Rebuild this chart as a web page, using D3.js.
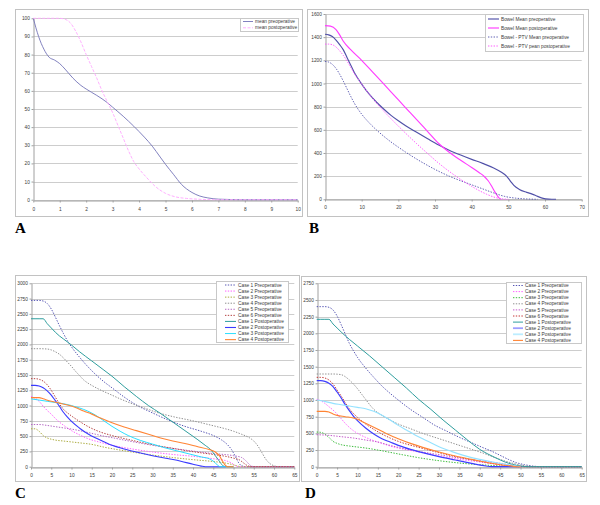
<!DOCTYPE html>
<html><head><meta charset="utf-8">
<script src="https://cdn.jsdelivr.net/npm/d3@7/dist/d3.min.js"></script>
<style>html,body{margin:0;padding:0;background:#fff;}svg{display:block;}</style>
</head><body>
<script>
// ---------- DATA ----------
// Panel A
const aXTicks = [0,1,2,3,4,5,6,7,8,9,10];
const aYTicks = [0,10,20,30,40,50,60,70,80,90,100];
const aNames = ["mean preoperative","mean postoperative"];
const aMeanPre = [[0,100],[0.2,90],[0.4,83],[0.6,78.5],[0.8,77],[1,75],[1.2,72],[1.5,67],[1.8,63],[2,61],[2.4,57.5],[2.8,53.5],[3,51],[3.4,46],[3.8,40.5],[4.2,34.5],[4.5,29.5],[4.8,23.5],[5,19.5],[5.3,14],[5.6,8.5],[6,4],[6.3,2],[6.6,1],[7,0.3],[8,0],[9,0],[10,0]];
const aMeanPost = [[0,100],[0.5,100],[1,100],[1.2,99.5],[1.4,97.5],[1.6,93],[1.8,87],[2,80],[2.2,73.5],[2.4,67],[2.6,60],[2.8,54],[3,48],[3.2,41],[3.4,34],[3.6,27],[3.8,21],[4,17],[4.3,12],[4.6,7.5],[5,3.5],[5.4,1.5],[5.8,0.7],[6.2,0.3],[7,0],[8,0],[10,0]];

// Panel B
const bXTicks = [0,10,20,30,40,50,60,70];
const bYTicks = [0,200,400,600,800,1000,1200,1400,1600];
const bNames = ["Bowel Mean preoperative","Bowel Mean postoperative","Bowel - PTV Mean preoperative","Bowel - PTV pean postoperative"];
const bMeanPre = [[0,1425],[1,1420],[2,1405],[3,1375],[4,1335],[5,1290],[6,1225],[7,1160],[8,1095],[10,995],[12,910],[14,840],[16,780],[18,725],[20,678],[22,635],[25,578],[28,522],[31,468],[34,422],[37,382],[40,345],[43,310],[46,270],[48,235],[49.5,200],[50.5,160],[51.5,120],[53,85],[55,60],[56.5,45],[58,25],[59.5,8],[61,2],[63,0]];
const bMeanPost = [[0,1500],[1.5,1495],[3,1465],[4,1420],[5,1365],[7,1292],[10,1200],[13,1098],[16,996],[19,893],[22,790],[25,688],[28,585],[31,482],[33,428],[35,380],[37,337],[40,275],[42,232],[43.5,195],[44.5,160],[45.5,110],[46.5,55],[47.5,10],[48,0]];
const bPtvPre = [[0,1190],[1,1185],[2,1165],[3,1130],[4,1080],[5,1020],[6,955],[7,890],[8,830],[10,735],[12,662],[14,600],[16,545],[18,495],[20,450],[22,407],[25,347],[28,292],[31,242],[34,198],[37,160],[40,125],[43,90],[46,55],[49,25],[52,10],[55,3],[58,0]];
const bPtvPost = [[0,1340],[1,1340],[2,1335],[3,1315],[4,1282],[5,1242],[6,1195],[7,1140],[8,1085],[10,995],[12,910],[14,833],[16,762],[18,696],[20,632],[22,570],[25,480],[28,395],[31,312],[34,238],[37,172],[40,112],[42,76],[44,45],[46,20],[48,5],[50,0]];

// Panels C and D (shared legend names)
const caseNames = ["Case 1 Preoperative","Case 2 Preoperative","Case 3 Preoperative","Case 4 Preoperative","Case 5 Preoperative","Case 6 Preoperative","Case 1 Postoperative","Case 2 Postoperative","Case 3 Postoperative","Case 4 Postoperative"];
const cdXTicks = [0,5,10,15,20,25,30,35,40,45,50,55,60,65];
const cYTicks = [0,250,500,750,1000,1250,1500,1750,2000,2250,2500,2750,3000];
const dYTicks = [0,250,500,750,1000,1250,1500,1750,2000,2250,2500,2750];

const c1Pre = [[0,2720],[1,2720],[2,2720],[3,2710],[4,2670],[5,2580],[6,2450],[7,2310],[8,2180],[9,2060],[10,1960],[12,1790],[15,1570],[18,1390],[20,1290],[23,1140],[26,1010],[30,880],[34,760],[38,660],[42,580],[45,510],[47,440],[48.5,360],[49.5,280],[50.5,160],[51.3,60],[52,15],[53,0],[65,0]];
const c2Pre = [[0,1150],[1,1120],[2,1070],[3,990],[4,920],[5,860],[6,790],[7,730],[8,680],[10,590],[12,520],[14,460],[17,400],[20,350],[25,290],[30,240],[35,200],[40,170],[45,130],[48,100],[49.5,60],[50.5,15],[51.5,0],[65,0]];
const c3Pre = [[0,620],[1,620],[2,580],[3,510],[4,470],[5,450],[6,435],[8,420],[10,405],[12,390],[15,365],[18,320],[20,295],[25,240],[30,190],[35,150],[40,115],[45,85],[48,60],[50,30],[51,10],[52,0],[65,0]];
const c4Pre = [[0,1930],[2,1930],[4,1925],[5,1910],[6,1880],[7,1840],[8,1780],[9,1710],[10,1640],[11,1560],[12,1490],[13,1420],[14,1370],[15,1330],[17,1260],[20,1170],[22,1110],[25,1030],[28,960],[31,890],[35,820],[40,750],[45,670],[48,620],[50,580],[52,530],[54,470],[55,420],[56,340],[57,230],[58,120],[59,50],[60,15],[61,0],[65,0]];
const c5Pre = [[0,690],[2,690],[4,675],[6,655],[8,635],[10,615],[12,590],[14,560],[16,530],[18,500],[20,475],[25,410],[30,350],[35,300],[40,255],[45,215],[50,180],[52,150],[53,100],[54,30],[55,0],[65,0]];
const c6Pre = [[0,1440],[1,1440],[2,1430],[3,1400],[4,1340],[5,1250],[6,1140],[7,1030],[8,940],[9,880],[10,830],[12,740],[14,660],[17,570],[20,510],[25,430],[30,360],[35,300],[40,245],[45,200],[48,170],[50,140],[51.5,110],[52.5,60],[53.5,15],[54.5,0],[65,0]];
const c1Post = [[0,2420],[1,2420],[2,2420],[3,2420],[4,2340],[5,2270],[6,2200],[7,2140],[8,2090],[10,1990],[12,1880],[15,1730],[18,1580],[20,1480],[23,1310],[26,1150],[29,1000],[32,870],[35,730],[38,590],[41,450],[43,350],[44.5,270],[45.5,180],[46.5,90],[47.3,20],[48,0],[50,0]];
const c2Post = [[0,1330],[1,1330],[2,1320],[3,1290],[4,1240],[5,1170],[6,1080],[7,990],[8,890],[9,810],[10,740],[12,630],[14,540],[16,470],[18,410],[20,350],[23,290],[26,240],[30,180],[34,130],[37,90],[40,40],[42,10],[43,0],[48,0]];
const c3Post = [[0,1110],[2,1090],[4,1070],[6,1050],[8,1030],[10,1000],[12,960],[14,910],[16,840],[18,750],[20,660],[22,580],[24,510],[27,430],[30,370],[33,310],[36,260],[39,210],[42,160],[44,130],[45,90],[46,30],[46.7,0],[48,0]];
const c4Post = [[0,1130],[2,1130],[3,1110],[5,1070],[7,1040],[9,1010],[11,970],[13,910],[15,860],[17,800],[20,720],[23,650],[26,590],[29,530],[32,470],[35,420],[38,380],[41,330],[44,280],[45.5,240],[46.5,180],[47.3,90],[48,20],[48.5,0],[50,0]];

const d1Pre = [[0,2400],[1,2400],[2,2400],[3,2390],[4,2350],[5,2260],[6,2130],[7,1990],[8,1850],[9,1740],[10,1640],[12,1480],[14,1340],[16,1210],[18,1100],[20,1000],[23,860],[26,740],[29,620],[32,530],[35,440],[38,360],[41,280],[43,230],[45,170],[47,110],[49,60],[51,30],[53,10],[55,0],[65,0]];
const d2Pre = [[0,1010],[1,990],[2,950],[3,900],[4,850],[5,790],[6,720],[7,650],[8,590],[9,540],[10,500],[12,440],[14,390],[16,350],[18,310],[20,280],[25,220],[30,160],[35,110],[40,70],[45,30],[48,10],[50,0],[65,0]];
const d3Pre = [[0,520],[1,515],[2,490],[3,440],[4,380],[5,350],[6,330],[8,310],[10,295],[12,280],[15,250],[18,215],[21,180],[25,135],[30,90],[35,55],[40,30],[45,12],[48,3],[50,0],[65,0]];
const d4Pre = [[0,1390],[2,1390],[4,1390],[6,1380],[7,1350],[8,1300],[9,1240],[10,1170],[11,1090],[12,1010],[13,930],[14,860],[16,770],[18,700],[20,640],[23,570],[26,500],[30,420],[34,340],[38,260],[41,200],[44,130],[47,70],[50,25],[52,5],[54,0],[65,0]];
const d5Pre = [[0,480],[3,470],[6,450],[9,430],[12,400],[15,370],[18,320],[20,290],[25,230],[30,180],[35,130],[40,90],[44,60],[47,30],[50,8],[52,0],[65,0]];
const d6Pre = [[0,1340],[1,1340],[2,1330],[3,1300],[4,1240],[5,1150],[6,1060],[7,960],[8,870],[10,740],[12,640],[14,560],[16,490],[18,430],[20,380],[25,290],[30,210],[35,140],[40,80],[44,40],[47,15],[50,0],[65,0]];
const d1Post = [[0,2210],[1,2210],[2,2210],[3,2210],[4,2140],[5,2080],[6,2020],[8,1910],[10,1810],[13,1660],[16,1500],[19,1340],[22,1180],[25,1010],[28,860],[31,700],[34,550],[37,400],[40,260],[42,190],[44,130],[46,75],[48,35],[50,10],[52,0],[65,0]];
const d2Post = [[0,1290],[1,1290],[2,1280],[3,1250],[4,1200],[5,1120],[6,1030],[7,930],[8,840],[9,760],[10,690],[12,580],[14,490],[16,420],[18,370],[20,320],[23,260],[26,210],[30,150],[34,100],[38,50],[41,15],[43,0],[50,0]];
const d3Post = [[0,1000],[2,980],[4,950],[6,930],[8,910],[10,890],[12,870],[14,830],[16,770],[18,700],[20,620],[22,550],[24,480],[27,390],[30,300],[33,230],[36,170],[40,110],[44,60],[47,30],[49,10],[50,0]];
const d4Post = [[0,830],[2,830],[3,820],[4,790],[5,770],[7,750],[9,730],[10,710],[12,650],[14,590],[16,530],[18,470],[20,420],[23,350],[26,290],[30,220],[34,160],[38,110],[42,60],[45,30],[48,8],[49,0],[50,0]];

// ---------- DRAWING ----------
const svg = d3.select("body").append("svg").attr("width",600).attr("height",505);
svg.append("rect").attr("width",600).attr("height",505).attr("fill","#fff");
const FONT = "Liberation Sans, Arial, sans-serif";
const FS = 4.8;

function panel(cfg){
  const g = svg.append("g");
  const [fx0,fy0,fx1,fy1] = cfg.frame;
  g.append("rect").attr("x",fx0+0.5).attr("y",fy0+0.5).attr("width",fx1-fx0).attr("height",fy1-fy0)
    .attr("fill","#fff").attr("stroke","#c2c2c2").attr("stroke-width",1);
  const x = d3.scaleLinear().domain(cfg.xDomain).range(cfg.xRange);
  const y = d3.scaleLinear().domain(cfg.yDomain).range(cfg.yRange);
  // gridlines
  g.append("g").selectAll("line").data(cfg.yTicks).join("line")
    .attr("x1",cfg.xRange[0]).attr("x2",cfg.xRange[1])
    .attr("y1",d=>Math.round(y(d))+0.5).attr("y2",d=>Math.round(y(d))+0.5)
    .attr("stroke","#cdcdcd").attr("stroke-width",1);
  // axes
  const ax = g.append("g").attr("transform",`translate(0,${Math.round(y(0))+0.5})`)
    .call(d3.axisBottom(x).tickValues(cfg.xTicks).tickFormat(d3.format("d")).tickSize(2).tickSizeOuter(0).tickPadding(cfg.xPad));
  const ay = g.append("g").attr("transform",`translate(${Math.round(cfg.xRange[0])+0.5},0)`)
    .call(d3.axisLeft(y).tickValues(cfg.yTicks).tickFormat(d3.format("d")).tickSize(2).tickSizeOuter(0).tickPadding(1.6));
  [ax,ay].forEach(a=>{
    a.selectAll("path.domain").attr("stroke","#a0a0a0");
    a.selectAll(".tick line").attr("stroke","#a0a0a0");
    a.selectAll("text").attr("font-family",FONT).attr("font-size",FS).attr("fill","#3a3a3a");
  });
  // series
  const line = d3.line().x(d=>x(d[0])).y(d=>y(d[1])).curve(d3.curveMonotoneX);
  cfg.series.forEach(s=>{
    g.append("path").attr("d",line(s.data)).attr("fill","none")
      .attr("stroke",s.color).attr("stroke-width",s.w)
      .attr("stroke-dasharray",s.dash||null).attr("stroke-linejoin","round");
  });
  // legend
  const L = cfg.legend;
  g.append("rect").attr("x",L.x+0.5).attr("y",L.y+0.5).attr("width",L.w).attr("height",L.h)
    .attr("fill","#fff").attr("stroke","#c8c8c8").attr("stroke-width",1);
  cfg.series.forEach((s,i)=>{
    const yy = L.row0 + i*L.step;
    g.append("line").attr("x1",L.lx0).attr("x2",L.lx1).attr("y1",yy).attr("y2",yy)
      .attr("stroke",s.lcolor||s.color).attr("stroke-width",s.lw||s.w).attr("stroke-dasharray",s.dash||null);
    g.append("text").attr("x",L.tx).attr("y",yy).attr("dy","0.35em")
      .attr("font-family",FONT).attr("font-size",L.fs||FS).attr("fill","#3a3a3a").text(cfg.names[i]);
  });
  // panel letter
  svg.append("text").attr("x",cfg.letter[1]).attr("y",cfg.letter[2])
    .attr("font-family","Liberation Serif, Times New Roman, serif").attr("font-weight","bold")
    .attr("font-size",15).attr("fill","#000").text(cfg.letter[0]);
}

const DOT = "1.4,1.4";

panel({
  frame:[15,9,302,216], xRange:[33.3,297.7], yRange:[199.7,18.3],
  xDomain:[0,10], yDomain:[0,100], xTicks:aXTicks, yTicks:aYTicks, xPad:5,
  names:aNames,
  series:[
    {data:aMeanPre, color:"#7474b8", w:0.9},
    {data:aMeanPost, color:"#ffa6ff", w:0.9, dash:"3,1.5"}
  ],
  legend:{x:240,y:18,w:58,h:13,row0:21.5,step:6.3,lx0:243,lx1:253,tx:255},
  letter:["A",15,233]
});

panel({
  frame:[307,9,588,216], xRange:[325,581.7], yRange:[199.3,14],
  xDomain:[0,70], yDomain:[0,1600], xTicks:bXTicks, yTicks:bYTicks, xPad:4,
  names:bNames,
  series:[
    {data:bMeanPre, color:"#5050a8", w:1.15},
    {data:bMeanPost, color:"#ff3cff", w:1.15},
    {data:bPtvPre, color:"#6060b4", w:1.0, dash:DOT},
    {data:bPtvPost, color:"#ff5cff", w:1.0, dash:DOT}
  ],
  legend:{x:485,y:14,w:98,h:37,row0:19,step:9,lx0:488,lx1:499,tx:501},
  letter:["B",309,233]
});

panel({
  frame:[15,275,299,481], xRange:[31,294.3], yRange:[466.7,283.3],
  xDomain:[0,65], yDomain:[0,3000], xTicks:cdXTicks, yTicks:cYTicks, xPad:4,
  names:caseNames,
  series:[
    {data:c1Pre, color:"#5656b4", w:1.0, dash:DOT},
    {data:c2Pre, color:"#ff60ff", w:1.0, dash:DOT},
    {data:c3Pre, color:"#acac40", w:1.0, dash:DOT},
    {data:c4Pre, color:"#909090", w:1.0, dash:DOT},
    {data:c5Pre, color:"#b468c4", w:1.0, dash:DOT},
    {data:c6Pre, color:"#b44040", w:1.0, dash:DOT},
    {data:c1Post, color:"#2f9e9e", w:1.0},
    {data:c2Post, color:"#3a3aff", w:1.1},
    {data:c3Post, color:"#2adfff", w:1.0},
    {data:c4Post, color:"#ff8434", w:1.1}
  ],
  legend:{x:216,y:281,w:72,h:61,row0:285,step:6.07,lx0:225,lx1:236,tx:238},
  letter:["C",15,498]
});

panel({
  frame:[301,276,586,481], xRange:[316.7,581.7], yRange:[466.7,283.3],
  xDomain:[0,65], yDomain:[0,2750], xTicks:cdXTicks, yTicks:dYTicks, xPad:4,
  names:caseNames,
  series:[
    {data:d1Pre, color:"#5656b4", w:1.0, dash:DOT},
    {data:d2Pre, color:"#ff60ff", w:1.0, dash:DOT},
    {data:d3Pre, color:"#3cbc3c", w:1.0, dash:DOT},
    {data:d4Pre, color:"#909090", w:1.0, dash:DOT},
    {data:d5Pre, color:"#c458cc", w:1.0, dash:DOT},
    {data:d6Pre, color:"#c43636", w:1.0, dash:DOT},
    {data:d1Post, color:"#2f9e9e", w:1.0},
    {data:d2Post, color:"#3e3eff", w:1.2, lcolor:"#9e9eff", lw:1.8},
    {data:d3Post, color:"#94e2ff", w:1.1, lcolor:"#bcedff", lw:1.8},
    {data:d4Post, color:"#ff8434", w:1.1}
  ],
  legend:{x:506,y:282,w:75,h:61,row0:285.5,step:6.1,lx0:513,lx1:523,tx:525},
  letter:["D",305,498]
});
</script>
</body></html>
